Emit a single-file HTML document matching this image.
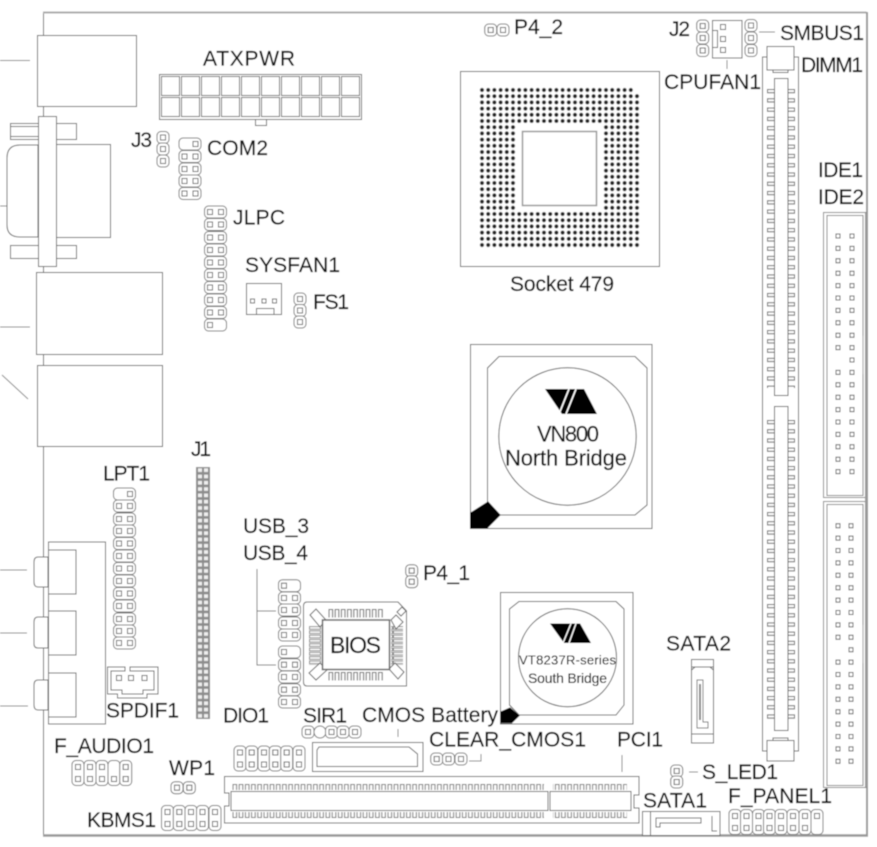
<!DOCTYPE html>
<html><head><meta charset="utf-8"><title>Mainboard layout</title>
<style>html,body{margin:0;padding:0;background:#fff}svg{display:block}
text{font-family:"Liberation Sans",sans-serif;fill:#111;font-size:21px;stroke:#111;stroke-width:.2}</style></head>
<body>
<svg xmlns="http://www.w3.org/2000/svg" width="877" height="847" viewBox="0 0 877 847">
<defs>
<filter id="soft" x="0" y="0" width="100%" height="100%"><feGaussianBlur stdDeviation="0.4"/></filter>
<g id="p"><rect x="-6" y="-6" width="12" height="12" rx="4" fill="#fff" stroke="#777"/><rect x="-2.5" y="-2.5" width="5" height="5" fill="none" stroke="#666"/></g>
<g id="h2"><rect x="-11" y="-6" width="22" height="12" rx="4" fill="#fff" stroke="#777"/><rect x="-8" y="-2.5" width="5" height="5" fill="none" stroke="#666"/><rect x="3" y="-2.5" width="5" height="5" fill="none" stroke="#666"/></g>
<g id="hL"><rect x="-11" y="-6" width="22" height="12" rx="4" fill="#fff" stroke="#777"/><rect x="-8" y="-2.5" width="5" height="5" fill="none" stroke="#666"/></g>
<g id="hR"><rect x="-11" y="-6" width="22" height="12" rx="4" fill="#fff" stroke="#777"/><rect x="3" y="-2.5" width="5" height="5" fill="none" stroke="#666"/></g>
<g id="v2"><rect x="-6" y="-12.5" width="12" height="25" rx="4" fill="#fff" stroke="#777"/><rect x="-2.5" y="-8.5" width="5" height="5" fill="none" stroke="#666"/><rect x="-2.5" y="3.5" width="5" height="5" fill="none" stroke="#666"/></g>
<g id="vB"><rect x="-6" y="-12.5" width="12" height="25" rx="4" fill="#fff" stroke="#777"/><rect x="-2.5" y="3.5" width="5" height="5" fill="none" stroke="#666"/></g>
<g id="vT"><rect x="-6" y="-12.5" width="12" height="25" rx="4" fill="#fff" stroke="#777"/><rect x="-2.5" y="-8.5" width="5" height="5" fill="none" stroke="#666"/></g>
<pattern id="dots" patternUnits="userSpaceOnUse" x="478.9" y="86.9" width="6.2" height="6.2"><circle cx="3.1" cy="3.1" r="2" fill="#222"/></pattern>
<pattern id="dimmL" patternUnits="userSpaceOnUse" x="0" y="89" width="20" height="9.27"><rect x="7.5" y="0.5" width="7" height="3.2" fill="#fff" stroke="#666"/></pattern>
<pattern id="dimmL2" patternUnits="userSpaceOnUse" x="0" y="420" width="20" height="9.2"><rect x="7.5" y="0.5" width="7" height="3.2" fill="#fff" stroke="#666"/></pattern>
<pattern id="j1p" patternUnits="userSpaceOnUse" x="196" y="467" width="14" height="6.3"><rect width="14" height="6.3" fill="#8c8c8c"/><rect x="2" y="1.3" width="4" height="3.7" fill="#eee"/><rect x="8" y="1.3" width="4" height="3.7" fill="#eee"/></pattern>
<pattern id="pciT" patternUnits="userSpaceOnUse" x="232" y="783" width="6.2" height="8"><path d="M1 7V1.5h3.6V7" fill="#fff" stroke="#777"/></pattern>
<pattern id="pciB" patternUnits="userSpaceOnUse" x="232" y="811" width="6.2" height="8"><path d="M1 1V6.5h3.6V1" fill="#fff" stroke="#777"/></pattern>
<pattern id="bv" patternUnits="userSpaceOnUse" x="328" y="609" width="6.2" height="9"><path d="M1 8.5V.5h3.6v8" fill="#fff" stroke="#666"/></pattern>
<pattern id="bh" patternUnits="userSpaceOnUse" x="309" y="626" width="12" height="4.3"><path d="M.5 .6H11.5V3.2H.5Z" fill="#fff" stroke="#888"/></pattern>
</defs>
<g filter="url(#soft)">
<rect width="877" height="847" fill="#fff"/>
<!-- board -->
<path d="M43.5 36V12.5M43.5 100V835" fill="none" stroke="#666"/>
<path d="M43 12.5H866.5" fill="none" stroke="#aaa" stroke-width="2"/>
<path d="M867 12V836" fill="none" stroke="#999" stroke-width="2"/>
<path d="M43 835.5H868" fill="none" stroke="#999" stroke-width="2.5"/>

<g fill="#fff" stroke="#666">
<!-- left IO -->
<rect x="37.5" y="35.5" width="99" height="71"/>
<path d="M0 60.5H30M0 327H30M2 375L28 399M0 206H7M0 570H27M0 633H27M0 706H28" fill="none" stroke="#888"/>
<rect x="10.5" y="123.5" width="66" height="16"/><rect x="10.5" y="126.5" width="28" height="10"/>
<rect x="10.5" y="245.5" width="66" height="13"/><rect x="10.5" y="245.5" width="28" height="13"/>
<path d="M38 145H20Q7 145 7 158V225Q7 237 20 237H38Z"/>
<rect x="55.5" y="144.5" width="55" height="93"/>
<rect x="38.5" y="116.5" width="18" height="150"/>
<rect x="36.5" y="272.5" width="126" height="82"/>
<rect x="37.5" y="365.5" width="125" height="81"/>
<rect x="48.5" y="542" width="57" height="182"/>
<path d="M48.5 550H76V594H48.5M48.5 611H76V655H48.5M48.5 673H76V717H48.5" fill="none"/>
<path d="M48 557H38Q34 557 34 562V582Q34 587 38 587H48Z"/>
<path d="M48 617H38Q34 617 34 622V644Q34 648 38 648H48Z"/>
<path d="M48 680H38Q34 680 34 685V705Q34 710 38 710H48Z"/>

<!-- ATX -->
<rect x="159.5" y="74.5" width="202" height="45"/>
<rect x="255.5" y="119.5" width="11" height="6"/>
<path d="M161.5 76.5h18v19h-18zM181.5 76.5h18v19h-18zM201.5 76.5h18v19h-18zM221.5 76.5h18v19h-18zM241.5 76.5h18v19h-18zM261.5 76.5h18v19h-18zM281.5 76.5h18v19h-18zM301.5 76.5h18v19h-18zM321.5 76.5h18v19h-18zM341.5 76.5h18v19h-18zM161.5 97.5h18v19h-18zM181.5 97.5h18v19h-18zM201.5 97.5h18v19h-18zM221.5 97.5h18v19h-18zM241.5 97.5h18v19h-18zM261.5 97.5h18v19h-18zM281.5 97.5h18v19h-18zM301.5 97.5h18v19h-18zM321.5 97.5h18v19h-18zM341.5 97.5h18v19h-18z"/>

<!-- sysfan -->
<rect x="246.5" y="283.5" width="35" height="31"/>
<path d="M256.5 314V308.5H274V314" />
<rect x="250.5" y="299" width="4" height="4"/><rect x="262" y="299" width="4" height="4"/><rect x="272.5" y="299" width="4" height="4"/>

<!-- socket -->
<rect x="460.5" y="71.5" width="199" height="195"/>
<rect x="478.9" y="86.9" width="161.2" height="161.2" fill="url(#dots)" stroke="none"/>
<rect x="516" y="123" width="86.5" height="89" stroke="none"/>
<rect x="634.5" y="86" width="7" height="7" stroke="none"/>
<rect x="522.5" y="131.5" width="74" height="74" stroke="#999" stroke-width="1.5"/>

<!-- North bridge -->
<rect x="470.5" y="344.5" width="181.5" height="184"/>
<path d="M499 356.5H635L647 368V505L635 515H499L487.5 503V368Z"/>
<circle cx="567.5" cy="436.5" r="68.7"/>
<path d="M470.7 513L488 502L500 515L487 528H470.7Z" fill="#000" stroke="#000"/>
<!-- South bridge -->
<rect x="500.5" y="592.5" width="132.5" height="131.5"/>
<path d="M519 601.5H616L624 609V705L616 715H519L509.5 705V609Z"/>
<circle cx="567.5" cy="657.7" r="49"/>
<path d="M501 712L510 708L519 715.7L511.7 722.7H501Z" fill="#000" stroke="#000"/>

<!-- BIOS -->
<path d="M307 602H398L406.5 611V686H307Q303.5 686 303.5 682V606Q303.5 602 307 602Z"/>
<rect x="328" y="609" width="56" height="9" fill="url(#bv)" stroke="none"/>
<rect x="328" y="672" width="56" height="9" fill="url(#bv)" stroke="none"/>
<rect x="309" y="626" width="12" height="39" fill="url(#bh)" stroke="none"/>
<rect x="391" y="626" width="12" height="39" fill="url(#bh)" stroke="none"/>
<path d="M310 615L316 609L326 620L320 627Z M391 620L396 615L403 622L396 629Z M320 663L327 670L316 680L309 673Z M389 669L395 663L404 672L398 679Z"/>
<path d="M397 612L402 607L406 611L401 616Z"/>
<rect x="322.5" y="620" width="67" height="49.5" stroke-width="1.5"/>

<!-- CMOS battery -->
<rect x="312.5" y="742.5" width="110.5" height="29"/>
<path d="M319 747H409L417.5 754V766.5H317V750Z"/>
<path d="M398 729V737M622 755V772M727 60V69M759 32H775M689 772H698M469 761H481V754" fill="none" stroke="#888"/>
<path d="M257 569V665H276M257 611H276" fill="none" stroke="#777"/>

<!-- PCI -->
<path d="M224.5 776.5H639V795H634V808H639V823H224.5V806H229V793H224.5Z"/>
<rect x="232" y="783" width="312" height="8" fill="url(#pciT)" stroke="none"/>
<rect x="553" y="783" width="74" height="8" fill="url(#pciT)" stroke="none"/>
<rect x="232" y="811" width="312" height="8" fill="url(#pciB)" stroke="none"/>
<rect x="553" y="811" width="74" height="8" fill="url(#pciB)" stroke="none"/>
<rect x="231" y="791.5" width="317" height="19"/>
<rect x="550" y="791.5" width="81" height="19"/>

<!-- DIMM -->
<rect x="762.5" y="57" width="36" height="694"/>
<g stroke="none"><rect x="760" y="89" width="40" height="299" fill="url(#dimmL)"/>
<rect x="760" y="420" width="40" height="299" fill="url(#dimmL2)"/></g>
<rect x="774.5" y="78.5" width="13.5" height="317"/>
<rect x="774.5" y="406.5" width="13.5" height="324"/>
<rect x="773" y="70" width="15" height="2.5"/>
<rect x="767" y="46.5" width="27" height="23.5"/>
<rect x="773" y="738" width="15" height="3"/>
<rect x="767" y="740.5" width="27" height="20.5"/>

<!-- IDE -->
<rect x="823.5" y="212.5" width="43" height="285" stroke="#888"/>
<rect x="827" y="215.5" width="36" height="280" stroke="#888"/>
<rect x="823.5" y="501.5" width="43" height="286" stroke="#888"/>
<rect x="827" y="504.5" width="36" height="281" stroke="#888"/>
<path d="M863 336V374M863 625V663" stroke="#999" fill="none"/>
<path d="M866 213V787" stroke="#999" stroke-width="2" fill="none"/>

<!-- SPDIF -->
<path d="M125 667H107.5V694H117.5V698H147V694H158V667H130V671H154V690H143V694H122V690H111V671H125Z"/>
<rect x="116.5" y="675.5" width="5" height="5"/><rect x="128.5" y="675.5" width="5" height="5"/><rect x="142" y="675.5" width="5" height="5"/>

<!-- CPUFAN -->
<rect x="712.5" y="20.5" width="29.5" height="37.5"/>
<path d="M712.5 30.5H717.5V47.5H712.5" fill="none"/>
<rect x="720.5" y="24.5" width="5" height="5"/><rect x="720.5" y="36.5" width="5" height="5"/><rect x="720.5" y="47.5" width="5" height="5"/>

<!-- SATA2 -->
<rect x="691.5" y="659.5" width="22" height="83.5"/>
<path d="M691.5 667H713.5M691.5 734H713.5M691.5 670L695 667M713.5 670L710 667" fill="none"/>
<path d="M697 680H703V722H708V728H697Z" stroke="#777"/>
<path d="M700 684V720" stroke="#888" stroke-width="2" fill="none"/>

<!-- SATA1 -->
<rect x="642.5" y="811.5" width="77.5" height="24"/>
<path d="M650.5 811.5V835.5M656 827V818H701V823H660V827ZM712 816V831H717" fill="none"/>
</g>

<!-- J1 -->
<rect x="196" y="467" width="14" height="252" fill="url(#j1p)"/>

<!-- Pin headers -->
<use href="#p" x="163" y="137.5"/><use href="#p" x="163" y="149"/><use href="#p" x="163" y="161"/>
<use href="#hR" x="190" y="144"/><use href="#h2" x="190" y="156.5"/><use href="#h2" x="190" y="169"/><use href="#h2" x="190" y="181"/><use href="#h2" x="190" y="193.5"/>
<use href="#h2" x="215.5" y="212"/><use href="#h2" x="215.5" y="224.5"/><use href="#h2" x="215.5" y="237.5"/><use href="#h2" x="215.5" y="250"/><use href="#h2" x="215.5" y="262.5"/><use href="#h2" x="215.5" y="275"/><use href="#h2" x="215.5" y="287.5"/><use href="#h2" x="215.5" y="300"/><use href="#h2" x="215.5" y="312.5"/><use href="#hL" x="215.5" y="325"/>
<use href="#p" x="300" y="299"/><use href="#p" x="300" y="310.5"/><use href="#p" x="300" y="322"/>
<use href="#p" x="490.7" y="30"/><use href="#p" x="503" y="30"/>
<use href="#p" x="702.7" y="26"/><use href="#p" x="702.7" y="38"/><use href="#p" x="702.7" y="50.5"/>
<use href="#p" x="751" y="25.5"/><use href="#p" x="751" y="38"/><use href="#p" x="751" y="50.5"/>
<use href="#hR" x="124.5" y="494"/><use href="#h2" x="124.5" y="506"/><use href="#h2" x="124.5" y="519"/><use href="#h2" x="124.5" y="531"/><use href="#h2" x="124.5" y="543.5"/><use href="#h2" x="124.5" y="556"/><use href="#h2" x="124.5" y="568.5"/><use href="#h2" x="124.5" y="581"/><use href="#h2" x="124.5" y="593.5"/><use href="#h2" x="124.5" y="606"/><use href="#h2" x="124.5" y="619"/><use href="#h2" x="124.5" y="631"/><use href="#h2" x="124.5" y="643"/>
<use href="#hL" x="289.5" y="585.7"/><use href="#h2" x="289.5" y="598"/><use href="#h2" x="289.5" y="610"/><use href="#h2" x="289.5" y="623"/><use href="#h2" x="289.5" y="635"/>
<use href="#hL" x="289.5" y="652"/><use href="#h2" x="289.5" y="664.7"/><use href="#h2" x="289.5" y="677"/><use href="#h2" x="289.5" y="689.7"/><use href="#h2" x="289.5" y="702"/>
<use href="#v2" x="240" y="758.5"/><use href="#v2" x="251.7" y="758.5"/><use href="#v2" x="264" y="758.5"/><use href="#v2" x="275.3" y="758.5"/><use href="#v2" x="286.7" y="758.5"/><use href="#v2" x="299" y="758.5"/>
<use href="#p" x="308" y="732"/><rect x="314" y="726" width="12" height="12" rx="6" fill="#fff" stroke="#777"/><use href="#p" x="331.5" y="732"/><use href="#p" x="343" y="732"/><use href="#p" x="355" y="732"/>
<use href="#p" x="436.7" y="759"/><use href="#p" x="448.5" y="759"/><use href="#p" x="461" y="759"/>
<use href="#p" x="676.7" y="771"/><use href="#p" x="676.7" y="782"/>
<use href="#p" x="411.7" y="570.7"/><use href="#p" x="411.7" y="581.7"/>
<use href="#p" x="177" y="787.7"/><use href="#p" x="189.3" y="787.7"/>
<use href="#v2" x="78" y="773"/><use href="#v2" x="90" y="773"/><use href="#v2" x="102" y="773"/><use href="#vB" x="114" y="773"/><use href="#v2" x="125.7" y="773"/>
<use href="#v2" x="167.5" y="818"/><use href="#v2" x="179.3" y="818"/><use href="#v2" x="191" y="818"/><use href="#v2" x="202.5" y="818"/><use href="#v2" x="215" y="818"/>
<use href="#v2" x="735" y="822"/><use href="#v2" x="746.5" y="822"/><use href="#v2" x="758.5" y="822"/><use href="#v2" x="769.5" y="822"/><use href="#v2" x="781" y="822"/><use href="#v2" x="793" y="822"/><use href="#v2" x="805" y="822"/><use href="#vT" x="817" y="822"/>

<!-- IDE pins -->
<g fill="none" stroke="#666">
<path d="M836 234h4v4h-4zM850 234h4v4h-4zM836 246.4h4v4h-4zM850 246.4h4v4h-4zM836 258.8h4v4h-4zM850 258.8h4v4h-4zM836 271.2h4v4h-4zM850 271.2h4v4h-4zM836 283.6h4v4h-4zM850 283.6h4v4h-4zM836 296h4v4h-4zM850 296h4v4h-4zM836 308.4h4v4h-4zM850 308.4h4v4h-4zM836 320.8h4v4h-4zM850 320.8h4v4h-4zM836 333.2h4v4h-4zM850 333.2h4v4h-4zM836 345.6h4v4h-4zM850 345.6h4v4h-4zM850 358h4v4h-4zM836 370.4h4v4h-4zM850 370.4h4v4h-4zM836 382.8h4v4h-4zM850 382.8h4v4h-4zM836 395.2h4v4h-4zM850 395.2h4v4h-4zM836 407.6h4v4h-4zM850 407.6h4v4h-4zM836 420h4v4h-4zM850 420h4v4h-4zM836 432.4h4v4h-4zM850 432.4h4v4h-4zM836 444.8h4v4h-4zM850 444.8h4v4h-4zM836 457.2h4v4h-4zM850 457.2h4v4h-4zM836 469.6h4v4h-4zM850 469.6h4v4h-4z"/>
<path d="M836 523.7h4v4h-4zM849 523.7h4v4h-4zM836 536.1h4v4h-4zM849 536.1h4v4h-4zM836 548.5h4v4h-4zM849 548.5h4v4h-4zM836 560.9h4v4h-4zM849 560.9h4v4h-4zM836 573.3h4v4h-4zM849 573.3h4v4h-4zM836 585.7h4v4h-4zM849 585.7h4v4h-4zM836 598.1h4v4h-4zM849 598.1h4v4h-4zM836 610.5h4v4h-4zM849 610.5h4v4h-4zM836 622.9h4v4h-4zM849 622.9h4v4h-4zM836 635.3h4v4h-4zM849 635.3h4v4h-4zM849 647.7h4v4h-4zM836 660.1h4v4h-4zM849 660.1h4v4h-4zM836 672.5h4v4h-4zM849 672.5h4v4h-4zM836 684.9h4v4h-4zM849 684.9h4v4h-4zM836 697.3h4v4h-4zM849 697.3h4v4h-4zM836 709.7h4v4h-4zM849 709.7h4v4h-4zM836 722.1h4v4h-4zM849 722.1h4v4h-4zM836 734.5h4v4h-4zM849 734.5h4v4h-4zM836 746.9h4v4h-4zM849 746.9h4v4h-4zM836 759.3h4v4h-4zM849 759.3h4v4h-4z"/>
</g>

<!-- VIA logos -->
<path d="M545 389H584L597 414H562Z" fill="#000"/>
<path d="M569 389L559 414M576 389L566 414" stroke="#fff" stroke-width="1.6"/>
<path d="M550 623.5H580L591 643H564Z" fill="#000"/>
<path d="M571 623.5L563 643M576 623.5L569 643" stroke="#fff" stroke-width="1.3"/>

<!-- labels -->
<text x="203" y="65.7" textLength="92" lengthAdjust="spacing">ATXPWR</text>
<text x="131" y="147" textLength="21" lengthAdjust="spacing">J3</text>
<text x="207" y="155" textLength="61" lengthAdjust="spacing">COM2</text>
<text x="233" y="224.3" textLength="52" lengthAdjust="spacing">JLPC</text>
<text x="245" y="272" textLength="95" lengthAdjust="spacing">SYSFAN1</text>
<text x="313" y="309" textLength="36" lengthAdjust="spacing">FS1</text>
<text x="514" y="34" textLength="49" lengthAdjust="spacing">P4_2</text>
<text x="669" y="36" textLength="21" lengthAdjust="spacing">J2</text>
<text x="780" y="40" textLength="84" lengthAdjust="spacing">SMBUS1</text>
<text x="801" y="72" textLength="62" lengthAdjust="spacing">DIMM1</text>
<text x="664" y="89" textLength="97" lengthAdjust="spacing">CPUFAN1</text>
<text x="510" y="291" textLength="104" lengthAdjust="spacing">Socket 479</text>
<text x="818" y="177" textLength="45" lengthAdjust="spacing">IDE1</text>
<text x="818" y="204" textLength="46" lengthAdjust="spacing">IDE2</text>
<text x="191" y="456" textLength="20" lengthAdjust="spacing">J1</text>
<text x="103" y="480.7" textLength="47" lengthAdjust="spacing">LPT1</text>
<text x="243" y="533" textLength="66" lengthAdjust="spacing">USB_3</text>
<text x="243" y="560" textLength="65" lengthAdjust="spacing">USB_4</text>
<text x="423" y="580" textLength="47" lengthAdjust="spacing">P4_1</text>
<text x="106" y="717.7" textLength="73" lengthAdjust="spacing">SPDIF1</text>
<text x="223" y="722.7" textLength="46" lengthAdjust="spacing">DIO1</text>
<text x="303" y="722.7" textLength="44" lengthAdjust="spacing">SIR1</text>
<text x="362" y="722" textLength="136" lengthAdjust="spacing">CMOS Battery</text>
<text x="429" y="746.7" textLength="157" lengthAdjust="spacing">CLEAR_CMOS1</text>
<text x="617" y="746.7" textLength="46" lengthAdjust="spacing">PCI1</text>
<text x="666" y="650.7" textLength="65" lengthAdjust="spacing">SATA2</text>
<text x="702" y="779" textLength="76" lengthAdjust="spacing">S_LED1</text>
<text x="643" y="807.7" textLength="64" lengthAdjust="spacing">SATA1</text>
<text x="728" y="803" textLength="104" lengthAdjust="spacing">F_PANEL1</text>
<text x="54" y="753" textLength="100" lengthAdjust="spacing">F_AUDIO1</text>
<text x="169" y="775" textLength="46" lengthAdjust="spacing">WP1</text>
<text x="87" y="827" textLength="69" lengthAdjust="spacing">KBMS1</text>
<text x="330" y="653" textLength="51" lengthAdjust="spacing" style="font-size:23px">BIOS</text>
<text x="537" y="441.6" textLength="62" lengthAdjust="spacing" style="font-size:22px">VN800</text>
<text x="505" y="465.6" textLength="122" lengthAdjust="spacing" style="font-size:22px">North Bridge</text>
<text x="519" y="664.3" textLength="97" lengthAdjust="spacing" style="font-size:13px;stroke-width:.1">VT8237R-series</text>
<text x="528" y="683" textLength="79" lengthAdjust="spacing" style="font-size:14px;stroke-width:.1">South Bridge</text>
</g>
</svg>
</body></html>
